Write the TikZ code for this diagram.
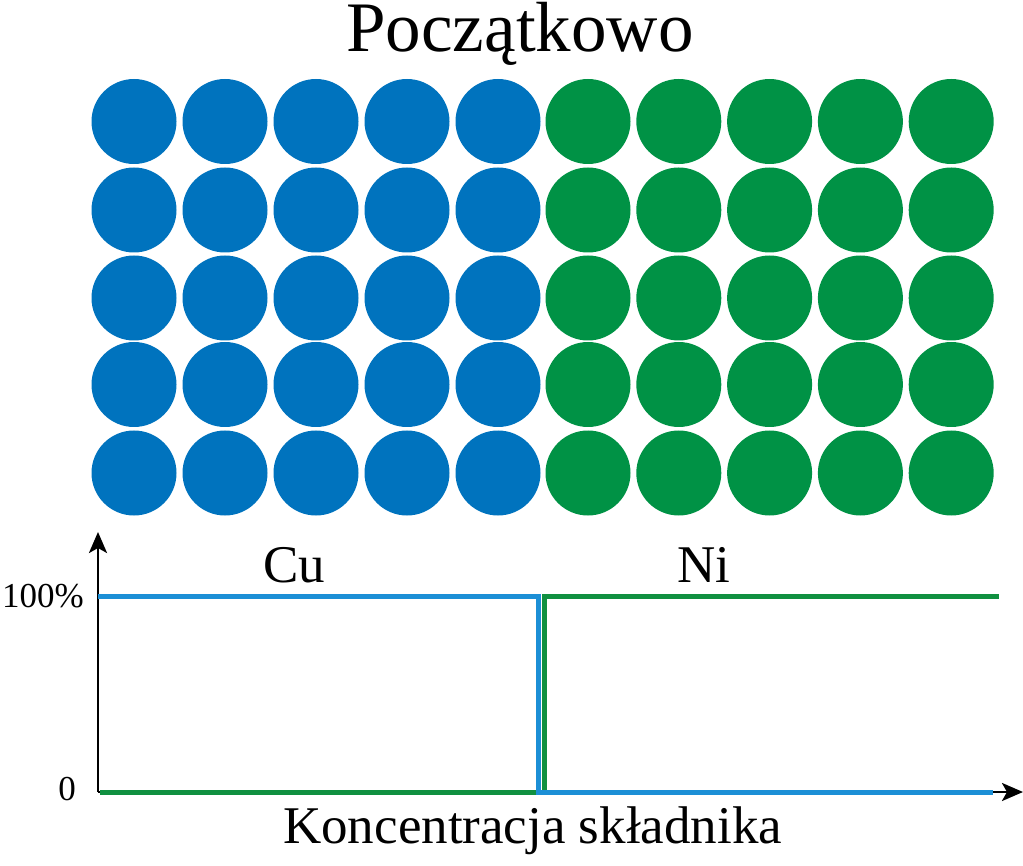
\documentclass[tikz,border=0pt]{standalone}
\usepackage{fontspec}
\setmainfont{Liberation Serif}
\usetikzlibrary{arrows.meta}
\definecolor{cublue}{RGB}{0,115,190}
\definecolor{nigreen}{RGB}{0,146,69}
\definecolor{lineblue}{RGB}{28,143,214}
\definecolor{linegreen}{RGB}{16,144,64}
\tikzset{
  dot/.style={circle, inner sep=0pt, minimum size=85pt, draw=none},
  cudot/.style={dot, fill=cublue},
  nidot/.style={dot, fill=nigreen},
  axis/.style={line width=2.8pt, black, -{Stealth[length=21pt,width=18pt,inset=5pt]}},
  culine/.style={line width=5pt, lineblue},
  niline/.style={line width=5pt, linegreen},
  big/.style={inner sep=0pt, font=\fontsize{53}{60}\selectfont},
  title/.style={inner sep=0pt, font=\fontsize{71}{80}\selectfont},
  tick/.style={inner sep=0pt, font=\fontsize{35}{40}\selectfont}
}
\begin{document}
\begin{tikzpicture}[x=1pt,y=-1pt]
\useasboundingbox (0,0) rectangle (1023,866);
% title
\node[title, anchor=base] (title) at (520,52) {Początkowo};
% atoms
\foreach \r/\y in {1/121.5,2/210,3/298,4/384.5,5/473}{
  \foreach \c in {1,...,5}{
    \node[cudot] (cu-\r-\c) at ({134+(\c-1)*91},\y) {};
  }
  \foreach \c in {1,...,5}{
    \node[nidot] (ni-\r-\c) at ({588+(\c-1)*90.8},\y) {};
  }
}
% axes
\coordinate (O) at (98,792);
\coordinate (ytop) at (98,532);
\coordinate (xend) at (1023,792);
\draw[axis] (O) -- (ytop);
\draw[axis] (O) -- (xend);
% concentration profiles
\coordinate (ni0) at (100,792);
\coordinate (nistepb) at (544,792);
\coordinate (nistept) at (544,596);
\coordinate (niend) at (999,596);
\coordinate (cu0) at (98,596);
\coordinate (custept) at (538.5,596);
\coordinate (custepb) at (538.5,792);
\coordinate (cuend) at (993,792);
\draw[niline] (ni0) -- (nistepb) -- (nistept) -- (niend);
\draw[culine] (cu0) -- (custept) -- (custepb) -- (cuend);
% labels
\node[tick, anchor=base east] (l100) at (84,607) {100\%};
\node[tick, anchor=base east] (l0) at (76,800) {0};
\node[big, anchor=base west] (cu) at (263,582) {Cu};
\node[big, anchor=base west] (ni) at (677,582) {Ni};
\node[big, anchor=base west] (xl) at (283,843) {Koncentracja składnika};
\end{tikzpicture}
\end{document}
